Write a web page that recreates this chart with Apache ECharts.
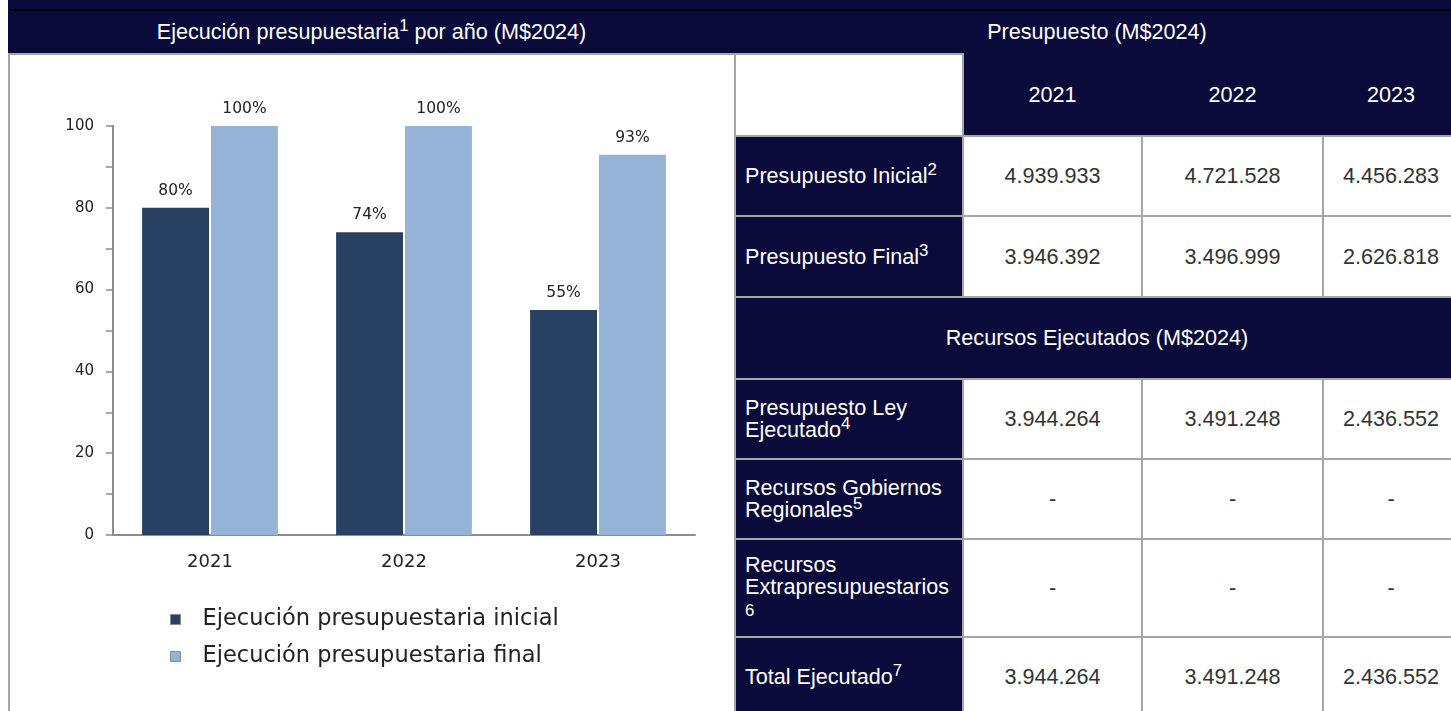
<!DOCTYPE html>
<html>
<head>
<meta charset="utf-8">
<script src="https://cdn.jsdelivr.net/npm/echarts@6/dist/echarts.min.js"></script>
<style>
  html, body { margin:0; padding:0; width:1451px; height:711px; overflow:hidden; background:#fff; font-family:"Liberation Sans", Arial, sans-serif; }
  .abs { position:absolute; box-sizing:border-box; }
  sup { font-size:0.78em; line-height:0; vertical-align:0.5em; }
  #tbl { position:absolute; left:734px; top:53px; width:724px; border-collapse:collapse; table-layout:fixed; font-size:21.6px; }
  #tbl td { border:2px solid #a6a6a6; padding:0 8px; text-align:center; color:#333; background:#fff; }
  #tbl td.lbl { background:#0B0B3B; color:#fff; text-align:left; line-height:22px; padding:0 4px 0 9px; }
  #tbl td.hd { background:#0B0B3B; color:#fff; border-color:#0B0B3B; border-bottom-color:#a6a6a6; }
  #tbl td.sec { background:#0B0B3B; color:#fff; }
</style>
</head>
<body>
<div class="abs" style="left:8px;top:0;width:1443px;height:53px;background:#0B0B3B;"></div>
<div class="abs" style="left:10px;top:9px;width:1441px;height:2px;background:#000;"></div>
<div class="abs" style="left:8px;top:11px;width:727px;height:42px;color:#fff;font-size:21.6px;text-align:center;line-height:42px;">Ejecución presupuestaria<sup>1</sup> por año (M$2024)</div>
<div class="abs" style="left:736px;top:11px;width:722px;height:42px;color:#fff;font-size:21.6px;text-align:center;line-height:42px;">Presupuesto (M$2024)</div>
<div class="abs" style="left:8px;top:53px;width:728px;height:700px;border-left:2px solid #a6a6a6;border-top:2px solid #a6a6a6;"></div>
<div id="chart" class="abs" style="left:10px;top:55px;width:724px;height:656px;"></div>
<table id="tbl"></table>
<script>
// ---- chart data ----
const categories = ['2021', '2022', '2023'];
const seriesNames = ['Ejecución presupuestaria inicial', 'Ejecución presupuestaria final'];
const ejecInicial = [80, 74, 55];
const ejecFinal = [100, 100, 93];
const yTicks = [0, 20, 40, 60, 80, 100];

// ---- table data ----
const tableYears = ['2021', '2022', '2023'];
const rowLabels1 = ['Presupuesto Inicial<sup>2</sup>', 'Presupuesto Final<sup>3</sup>'];
const presupuestoInicial = ['4.939.933', '4.721.528', '4.456.283'];
const presupuestoFinal = ['3.946.392', '3.496.999', '2.626.818'];
const sectionTitle = 'Recursos Ejecutados (M$2024)';
const rowLabels2 = ['Presupuesto Ley Ejecutado<sup>4</sup>', 'Recursos Gobiernos Regionales<sup>5</sup>', 'Recursos Extrapresupuestarios <span style="font-size:0.78em;">6</span>', 'Total Ejecutado<sup>7</sup>'];
const leyEjecutado = ['3.944.264', '3.491.248', '2.436.552'];
const gobiernosRegionales = ['-', '-', '-'];
const extrapresupuestarios = ['-', '-', '-'];
const totalEjecutado = ['3.944.264', '3.491.248', '2.436.552'];

// build table
const colW = [228, 179, 181, 136];
const rowH = { yr: 82, r1: 80, r2: 81, sec: 82, a: 80, b: 80, c: 98, d: 80 };
let html = '<colgroup>' + colW.map(w => '<col style="width:' + w + 'px">').join('') + '</colgroup>';
html += '<tr style="height:' + rowH.yr + 'px"><td></td>' + tableYears.map(y => '<td class="hd">' + y + '</td>').join('') + '</tr>';
const block1 = [[rowLabels1[0], presupuestoInicial, rowH.r1], [rowLabels1[1], presupuestoFinal, rowH.r2]];
block1.forEach(([l, vals, h]) => {
  html += '<tr style="height:' + h + 'px"><td class="lbl">' + l + '</td>' + vals.map(v => '<td>' + v + '</td>').join('') + '</tr>';
});
html += '<tr style="height:' + rowH.sec + 'px"><td class="sec" colspan="4" style="text-align:center;color:#fff;">' + sectionTitle + '</td></tr>';
const block2 = [[rowLabels2[0], leyEjecutado, rowH.a], [rowLabels2[1], gobiernosRegionales, rowH.b], [rowLabels2[2], extrapresupuestarios, rowH.c], [rowLabels2[3], totalEjecutado, rowH.d]];
block2.forEach(([l, vals, h]) => {
  html += '<tr style="height:' + h + 'px"><td class="lbl">' + l + '</td>' + vals.map(v => '<td>' + v + '</td>').join('') + '</tr>';
});
document.getElementById('tbl').innerHTML = html;

// chart
const chart = echarts.init(document.getElementById('chart'), null, { renderer: 'canvas' });
const FONT = 'DejaVu Sans';
chart.setOption({
  animation: false,
  textStyle: { fontFamily: FONT },
  grid: { left: 103, top: 71, width: 582, height: 409 },
  legend: {
    orient: 'vertical', left: 155, top: 548,
    itemWidth: 10, itemHeight: 10, itemGap: 14, icon: 'rect',
    itemStyle: { borderColor: '#8a8a8a', borderWidth: 1 },
    textStyle: { fontFamily: FONT, fontSize: 22.5, lineHeight: 22, color: '#222', padding: [0, 0, 0, 17] },
    data: seriesNames
  },
  xAxis: {
    type: 'category', data: categories,
    axisLine: { lineStyle: { color: '#8c8c8c', width: 2 } },
    axisTick: { show: false },
    axisLabel: { fontFamily: FONT, fontSize: 18, color: '#222', margin: 18 }
  },
  yAxis: {
    type: 'value', min: 0, max: 100, interval: 10,
    axisLine: { show: true, lineStyle: { color: '#8c8c8c', width: 2 } },
    axisTick: { show: true, length: 7, lineStyle: { color: '#8c8c8c', width: 1.5 } },
    splitLine: { show: false },
    axisLabel: { fontFamily: FONT, fontSize: 15, color: '#222', margin: 19,
      formatter: v => (yTicks.indexOf(v) >= 0 ? String(v) : '') }
  },
  series: [
    { name: seriesNames[0], type: 'bar', data: ejecInicial, barGap: '3%', barCategoryGap: '30%',
      itemStyle: { color: '#284163' },
      label: { show: true, position: 'top', distance: 9, fontFamily: FONT, fontSize: 15.5, color: '#222', formatter: '{c}%' } },
    { name: seriesNames[1], type: 'bar', data: ejecFinal,
      itemStyle: { color: '#95B3D7' },
      label: { show: true, position: 'top', distance: 9, fontFamily: FONT, fontSize: 15.5, color: '#222', formatter: '{c}%' } }
  ]
});
</script>
</body>
</html>
